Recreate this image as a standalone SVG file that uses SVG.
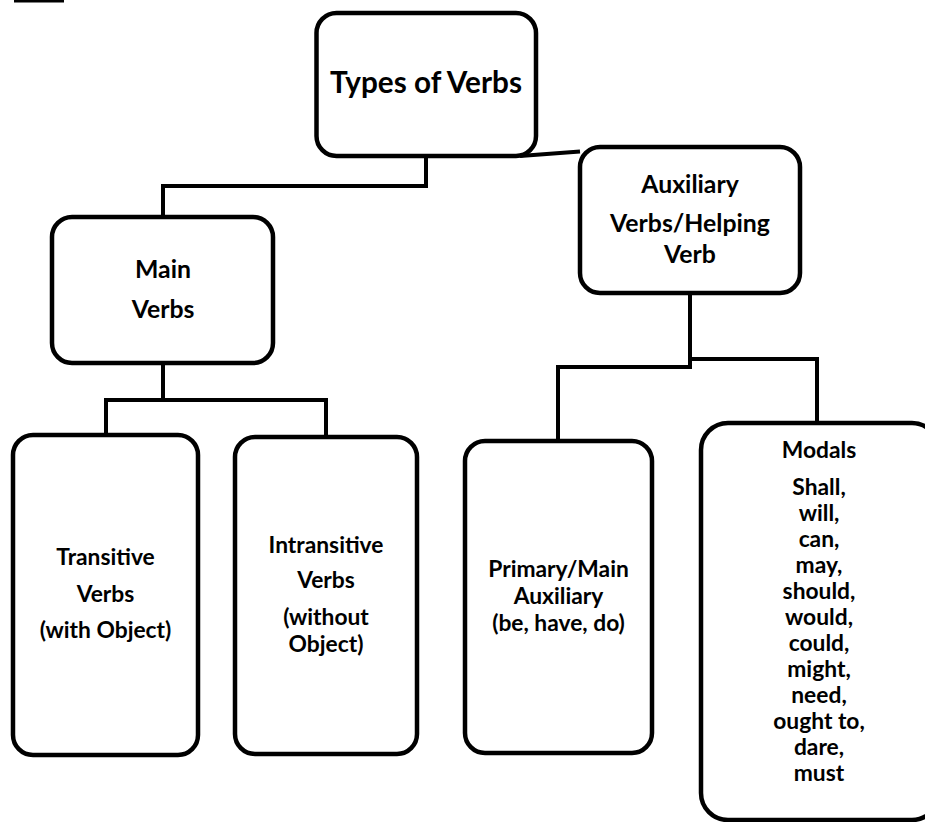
<svg xmlns="http://www.w3.org/2000/svg" width="925" height="822" viewBox="0 0 925 822">
<style>
.box{fill:#fff;stroke:#000;stroke-width:4.5}
.con{fill:none;stroke:#000;stroke-width:4;stroke-linejoin:miter}
.t{font-family:Lato,"Liberation Sans",sans-serif;font-weight:700;font-size:22.8px;text-anchor:middle;fill:#000}
.mid{font-size:24.8px}
.title{font-size:29.7px}
</style>
<rect width="925" height="822" fill="#fff"/>
<rect x="14" y="0" width="50" height="2.5" fill="#000"/>
<g id="connectors">
<path class="con" d="M426,156 V186 H163 V217"/>
<path class="con" d="M520,156 L580,151.5"/>
<path class="con" d="M690,293 V367 H558 V441"/>
<path class="con" d="M690,359 H817 V423"/>
<path class="con" d="M163,363 V400 H106 V435"/>
<path class="con" d="M163,400 H326 V437"/>
</g>
<g id="types">
<rect class="box" x="316.5" y="13" width="219.5" height="143" rx="20"/>
<text class="t title" x="426" y="93">Types of Verbs</text>
</g>
<g id="auxiliary">
<rect class="box" x="580" y="147" width="220" height="146" rx="20"/>
<text class="t mid" x="690" y="193">Auxiliary</text>
<text class="t mid" x="690" y="232">Verbs/Helping</text>
<text class="t mid" x="690" y="263">Verb</text>
</g>
<g id="main">
<rect class="box" x="52" y="217" width="221" height="146" rx="20"/>
<text class="t mid" x="163" y="278">Main</text>
<text class="t mid" x="163" y="318">Verbs</text>
</g>
<g id="transitive">
<rect class="box" x="13" y="435" width="185" height="320" rx="20"/>
<text class="t" x="105.5" y="565">Transitive</text>
<text class="t" x="105.5" y="602">Verbs</text>
<text class="t" x="105.5" y="638">(with Object)</text>
</g>
<g id="intransitive">
<rect class="box" x="235" y="437" width="182" height="317" rx="20"/>
<text class="t" x="326" y="553">Intransitive</text>
<text class="t" x="326" y="588">Verbs</text>
<text class="t" x="326" y="625">(without</text>
<text class="t" x="326" y="652">Object)</text>
</g>
<g id="primary">
<rect class="box" x="465" y="441" width="187" height="312" rx="20"/>
<text class="t" x="558.5" y="577">Primary/Main</text>
<text class="t" x="558.5" y="604">Auxiliary</text>
<text class="t" x="558.5" y="631">(be, have, do)</text>
</g>
<g id="modals">
<rect class="box" x="701" y="423" width="238" height="397" rx="27"/>
<text class="t" x="819" y="458">Modals</text>
<text class="t" x="819" y="495">Shall,</text>
<text class="t" x="819" y="521">will,</text>
<text class="t" x="819" y="547">can,</text>
<text class="t" x="819" y="573">may,</text>
<text class="t" x="819" y="599">should,</text>
<text class="t" x="819" y="625">would,</text>
<text class="t" x="819" y="651">could,</text>
<text class="t" x="819" y="677">might,</text>
<text class="t" x="819" y="703">need,</text>
<text class="t" x="819" y="729">ought to,</text>
<text class="t" x="819" y="755">dare,</text>
<text class="t" x="819" y="781">must</text>
</g>
</svg>
